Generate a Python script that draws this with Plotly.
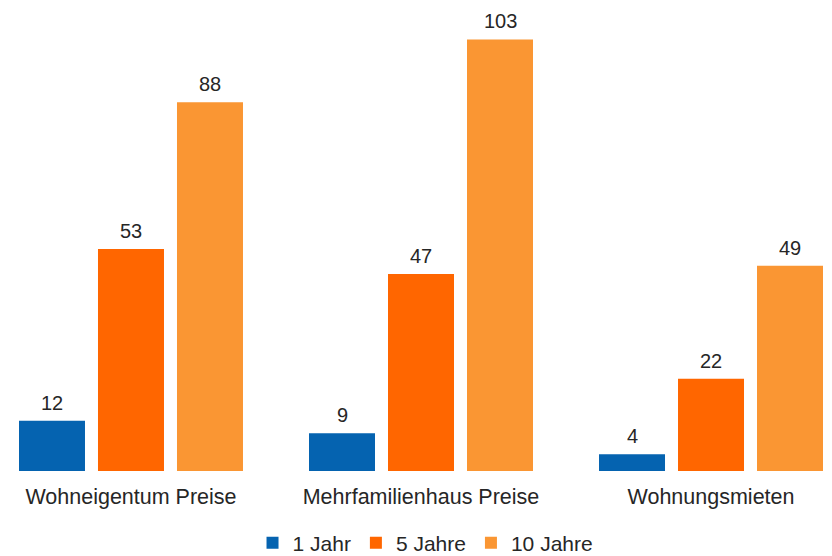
import plotly.graph_objects as go

categories = ["Wohneigentum Preise", "Mehrfamilienhaus Preise", "Wohnungsmieten"]
series_names = ["1 Jahr", "5 Jahre", "10 Jahre"]
values_1 = [12, 9, 4]
values_5 = [53, 47, 22]
values_10 = [88, 103, 49]
colors = ["#0563B0", "#FF6600", "#FA9633"]

all_values = [values_1, values_5, values_10]
FONT = "Liberation Sans, Arial, sans-serif"
TXT = "#262626"
FS = 21.5

bargap = 0.1828
bargroupgap = 0.1646

fig = go.Figure()
for name, vals, col in zip(series_names, all_values, colors):
    fig.add_trace(go.Bar(
        x=list(range(len(categories))), y=vals, name=name,
        marker=dict(color=col, line=dict(width=0)),
        hoverinfo="skip",
    ))

# value labels above each bar
n = len(series_names)
slot = (1 - bargap) / n
for j, vals in enumerate(all_values):
    for i, v in enumerate(vals):
        fig.add_annotation(
            x=i + (j - (n - 1) / 2) * slot, y=v, xref="x", yref="y",
            text=str(v), showarrow=False, yanchor="bottom", yshift=9,
            height=14, valign="middle", borderpad=1,
            font=dict(family=FONT, size=20, color=TXT),
        )

fig.update_layout(
    width=824, height=548,
    margin=dict(l=0, r=0, t=0, b=85, autoexpand=False),
    paper_bgcolor="white", plot_bgcolor="white",
    barmode="group", bargap=bargap, bargroupgap=bargroupgap,
    font=dict(family=FONT, size=FS, color=TXT),
    showlegend=True,
    legend=dict(orientation="h", x=0.5067, xanchor="center", y=-0.1555, yanchor="middle",
                font=dict(family=FONT, size=21, color=TXT), itemwidth=30,
                traceorder="normal"),
    xaxis=dict(tickmode="array", tickvals=list(range(len(categories))), ticktext=categories,
               range=[-0.4241, 2.4172], showgrid=False, zeroline=False, showline=False,
               automargin=False, ticklabelstandoff=10,
               ticks="", tickfont=dict(family=FONT, size=FS, color=TXT), fixedrange=True),
    yaxis=dict(range=[0, 110.5], visible=False, showgrid=False, zeroline=False,
               automargin=False, fixedrange=True),
)

fig.write_html("out.html")
